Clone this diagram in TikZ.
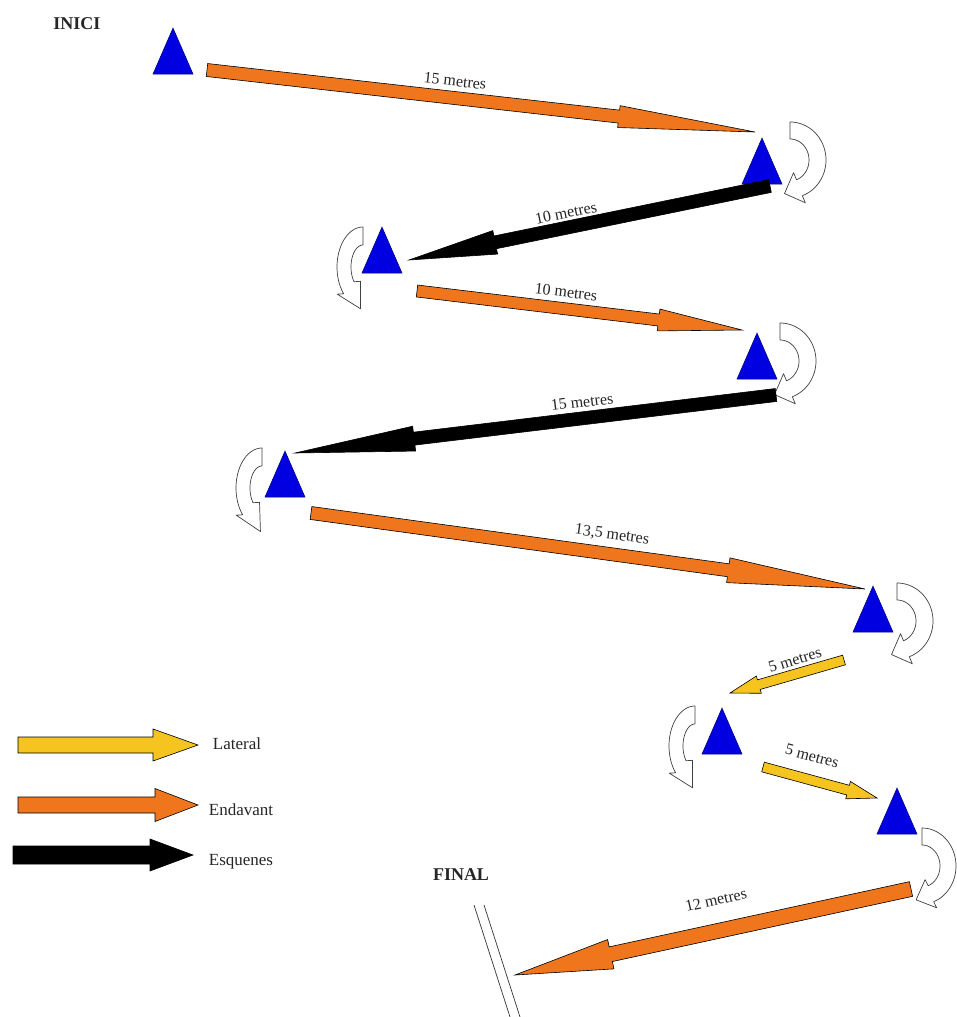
\documentclass[tikz,border=0pt]{standalone}
\usepackage{fontspec}
\setmainfont{Liberation Serif}
\usetikzlibrary{calc}
\definecolor{orng}{RGB}{240,118,30}
\definecolor{ylw}{RGB}{245,196,30}
\definecolor{triblue}{RGB}{0,0,225}
\definecolor{tridark}{RGB}{0,0,120}

% block arrow: #1 style, #2 tail coord, #3 tip coord, #4 shaft half width, #5 head half width, #6 head length
\newcommand\blkarrow[6]{%
  \coordinate (hb) at ($(#3)!#6!(#2)$);
  \draw[#1] ($(#2)!#4!90:(#3)$) -- ($(hb)!#4!90:(#3)$) -- ($(hb)!#5!90:(#3)$) -- (#3)
    -- ($(hb)!#5!-90:(#3)$) -- ($(hb)!#4!-90:(#3)$) -- ($(#2)!#4!-90:(#3)$) -- cycle;}

% turning arrow: #1 cx, #2 cy, #3 xscale, #4 rxo, #5 ryo, #6 rxi, #7 ryi, #8 end angle, #9 tip length
\newcommand\turnarr[9]{%
  \begin{scope}[shift={(#1,#2)}, xscale=#3]
    \pgfmathsetmacro\rmx{(#4+#6)/2}
    \pgfmathsetmacro\rmy{(#5+#7)/2}
    \pgfmathsetmacro\Wd{0.95*(#4-#6)}
    \coordinate (tm) at ({\rmx*cos(#8)},{\rmy*sin(#8)});
    \coordinate (tt) at ({\rmx*cos(#8)-\rmx*sin(#8)},{\rmy*sin(#8)+\rmy*cos(#8)});
    \coordinate (tn) at ({\rmx*cos(#8)+\rmy*cos(#8)},{\rmy*sin(#8)+\rmx*sin(#8)});
    \draw[turnst] (0,-#7) -- (0,-#5)
      -- plot[domain=-90:#8, samples=40, variable=\t] ({#4*cos(\t)},{#5*sin(\t)})
      -- ($(tm)!\Wd pt!(tn)$) -- ($(tm)!#9pt!(tt)$) -- ($(tm)!-\Wd pt!(tn)$)
      -- plot[domain=#8:-90, samples=40, variable=\t] ({#6*cos(\t)},{#7*sin(\t)}) -- cycle;
  \end{scope}}

% triangle marker: #1 apex x, #2 apex y, #3 name
\newcommand\mkr[3]{%
  \coordinate (#3) at (#1,#2);
  \draw[trist] (#3) -- ++(20,46) -- ++(-40,0) -- cycle;}

\begin{document}
\begin{tikzpicture}[x=1pt, y=-1pt,
  orangearr/.style={fill=orng, draw=black, line width=0.6pt, line join=miter},
  blackarr/.style={fill=black, draw=black, line width=0.6pt},
  yellowarr/.style={fill=ylw, draw=black, line width=0.6pt},
  turnst/.style={fill=white, draw=black!75, line width=0.7pt, line join=round},
  trist/.style={fill=triblue, draw=tridark, line width=0.5pt},
  lbl/.style={inner sep=0pt, font=\fontsize{16}{16}\selectfont, text=black!85},
  leg/.style={inner sep=0pt, font=\fontsize{17}{17}\selectfont, text=black!85},
  ttl/.style={inner sep=0pt, font=\fontsize{18}{18}\selectfont\bfseries, text=black!85}]
\fill[white] (0,0) rectangle (956,1017);
\useasboundingbox (0,0) rectangle (956,1017);

% titles
\node[ttl] (inici) at (77,24) {INICI};
\node[ttl] (final) at (461,875) {FINAL};

% finish line
\coordinate (f1a) at (474,905); \coordinate (f1b) at (510,1017);
\coordinate (f2a) at (484,905); \coordinate (f2b) at (520,1017);
\draw[black!80, line width=0.7pt] (f1a) -- (f1b);
\draw[black!80, line width=0.7pt] (f2a) -- (f2b);

% markers
\mkr{173}{28}{t1}
\mkr{762}{138}{t2}
\mkr{382}{227}{t3}
\mkr{757}{333}{t4}
\mkr{285}{451}{t5}
\mkr{873}{586}{t6}
\mkr{722}{708}{t7}
\mkr{897}{788}{t8}

% turning arrows
\turnarr{790}{160}{1}{36}{38}{19}{21}{70}{16}
\turnarr{780}{361}{1}{36}{38}{19}{21}{70}{16}
\turnarr{897}{621}{1}{36}{38}{19}{21}{70}{16}
\turnarr{922}{866}{1}{34}{38}{18}{21}{70}{16}
\turnarr{363}{267}{-1}{26}{40}{12}{22}{42}{24}
\turnarr{262}{488}{-1}{26}{40}{12}{22}{42}{26}
\turnarr{695}{746}{-1}{26}{40}{12}{22}{42}{24}

% route arrows
\coordinate (a1s) at (207,70);  \coordinate (a1e) at (755,132);
\coordinate (a2s) at (770,186); \coordinate (a2e) at (409,260);
\coordinate (a3s) at (417,291); \coordinate (a3e) at (742,330);
\coordinate (a4s) at (776,395); \coordinate (a4e) at (295,453);
\coordinate (a5s) at (311,513); \coordinate (a5e) at (865,589);
\coordinate (a6s) at (844,660); \coordinate (a6e) at (730,693);
\coordinate (a7s) at (763,767); \coordinate (a7e) at (877,798);
\coordinate (a8s) at (911,889); \coordinate (a8e) at (515,975);
\blkarrow{orangearr}{a1s}{a1e}{6.5pt}{11pt}{137pt}
\blkarrow{blackarr}{a2s}{a2e}{6.5pt}{12pt}{88pt}
\blkarrow{orangearr}{a3s}{a3e}{6pt}{11pt}{84pt}
\blkarrow{blackarr}{a4s}{a4e}{6.5pt}{12.5pt}{120pt}
\blkarrow{orangearr}{a5s}{a5e}{6.5pt}{12.5pt}{138pt}
\blkarrow{yellowarr}{a6s}{a6e}{5pt}{9pt}{30pt}
\blkarrow{yellowarr}{a7s}{a7e}{5pt}{9pt}{30pt}
\blkarrow{orangearr}{a8s}{a8e}{7.5pt}{15pt}{98pt}

% distance labels
\node[lbl, rotate=-6.4] (d1) at (455,81) {15 metres};
\node[lbl, rotate=11.6] (d2) at (566,213) {10 metres};
\node[lbl, rotate=-6.8] (d3) at (566,292) {10 metres};
\node[lbl, rotate=6.9] (d4) at (582,402) {15 metres};
\node[lbl, rotate=-7.8] (d5) at (612,535) {13,5 metres};
\node[lbl, rotate=17] (d6) at (795,660) {5 metres};
\node[lbl, rotate=-15] (d7) at (812,756) {5 metres};
\node[lbl, rotate=12.5] (d8) at (716,900) {12 metres};

% legend
\coordinate (g1s) at (18,745); \coordinate (g1e) at (198,745);
\coordinate (g2s) at (18,805); \coordinate (g2e) at (198,805);
\coordinate (g3s) at (13,855); \coordinate (g3e) at (193,855);
\blkarrow{yellowarr}{g1s}{g1e}{8pt}{16pt}{45pt}
\blkarrow{orangearr}{g2s}{g2e}{8pt}{16.5pt}{43pt}
\blkarrow{blackarr}{g3s}{g3e}{9pt}{16pt}{43pt}
\node[leg] (lat) at (237,744) {Lateral};
\node[leg] (end) at (241,810) {Endavant};
\node[leg] (esq) at (241,862) {Esquenes};
\end{tikzpicture}
\end{document}
